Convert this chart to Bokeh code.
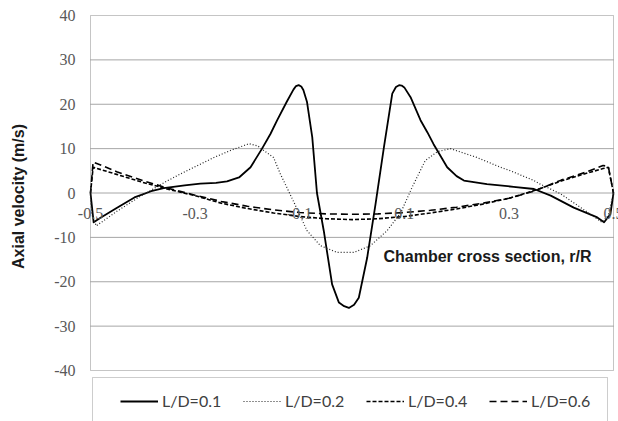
import math
from bokeh.plotting import figure
from bokeh.models import (Range1d, Legend, LegendItem, LabelSet, ColumnDataSource,
                          Label, BoxAnnotation)
from bokeh.embed import file_html
from bokeh.resources import INLINE

# ---- data ----
r_ld01 = [-0.5, -0.494, -0.48, -0.45, -0.416, -0.384, -0.36, -0.32, -0.29, -0.26, -0.239,
          -0.216, -0.194, -0.172, -0.156, -0.143, -0.125, -0.112, -0.107, -0.102, -0.097,
          -0.093, -0.086, -0.076, -0.067, -0.054, -0.038, -0.025, -0.015, -0.006, 0.004,
          0.013, 0.029, 0.045, 0.061, 0.077, 0.084, 0.090, 0.095, 0.100, 0.112, 0.131,
          0.144, 0.156, 0.182, 0.200, 0.214, 0.258, 0.309, 0.348, 0.38, 0.424, 0.469,
          0.482, 0.494, 0.5]
v_ld01 = [0.0, -6.6, -5.5, -3.4, -1.0, 0.4, 1.1, 1.7, 2.1, 2.3, 2.6,
          3.5, 5.8, 10.0, 13.3, 16.4, 20.5, 23.3, 24.1, 24.3, 24.0,
          23.2, 20.5, 12.6, 0.0, -8.5, -20.6, -24.7, -25.5, -25.9, -25.2,
          -23.6, -14.6, -2.5, 10.3, 22.4, 23.9, 24.3, 24.2, 23.8, 21.6, 16.4,
          13.7, 11.0, 5.8, 3.8, 2.8, 2.0, 1.4, 0.9, -0.6, -3.3, -5.5,
          -6.6, -4.8, 0.0]

r_ld02 = [-0.5, -0.497, -0.489, -0.448, -0.403, -0.352, -0.328, -0.276, -0.264, -0.23,
          -0.197, -0.18, -0.169, -0.15, -0.137, -0.111, -0.086, -0.06, -0.028, 0.003,
          0.035, 0.067, 0.093, 0.115, 0.14, 0.163, 0.188, 0.239, 0.284, 0.303, 0.348,
          0.36, 0.399, 0.44, 0.478, 0.49, 0.5]
v_ld02 = [-1.0, -5.0, -7.4, -4.0, -0.6, 2.8, 4.3, 7.3, 8.0, 9.7,
          11.1, 10.6, 9.6, 8.0, 4.3, -2.1, -8.5, -11.9, -13.4, -13.4,
          -11.9, -8.5, -4.5, 1.3, 7.3, 9.3, 10.0, 8.0, 5.8, 5.0, 2.8,
          2.0, -0.2, -3.5, -6.6, -5.0, 0.0]

r_ld04 = [-0.5, -0.495, -0.45, -0.4, -0.35, -0.3, -0.25, -0.2, -0.15, -0.1, -0.05, 0.0,
          0.05, 0.1, 0.15, 0.2, 0.25, 0.3, 0.35, 0.4, 0.45, 0.48, 0.49, 0.5]
v_ld04 = [0.0, 5.8, 4.2, 2.4, 0.8, -0.6, -2.3, -3.5, -4.5, -5.3, -5.8, -6.0,
          -5.8, -5.3, -4.5, -3.6, -2.5, -1.2, 0.6, 2.7, 4.5, 5.5, 5.8, 0.0]

r_ld06 = [-0.5, -0.495, -0.45, -0.4, -0.35, -0.3, -0.25, -0.2, -0.15, -0.1, -0.05, 0.0,
          0.05, 0.1, 0.15, 0.2, 0.25, 0.3, 0.35, 0.4, 0.45, 0.48, 0.49, 0.5]
v_ld06 = [0.0, 7.0, 4.8, 2.8, 1.0, -0.5, -1.9, -3.0, -3.8, -4.4, -4.7, -4.8,
          -4.7, -4.4, -3.9, -3.2, -2.3, -1.2, 0.5, 2.9, 4.8, 6.2, 6.0, 0.0]

series_labels = ["L/D=0.1", "L/D=0.2", "L/D=0.4", "L/D=0.6"]
x_ticks = [-0.5, -0.3, -0.1, 0.1, 0.3, 0.5]
x_tick_labels = ["-0.5", "-0.3", "-0.1", "0.1", "0.3", "0.5"]
y_ticks = [-40, -30, -20, -10, 0, 10, 20, 30, 40]
y_tick_labels = [str(t) for t in y_ticks]
y_title = "Axial velocity (m/s)"
x_title = "Chamber cross section, r/R"

# ---- layout (pixels of the canvas) ----
W, H = 618, 421
PL, PR, PT, PB = 90, 613, 15, 370          # plot-area edges
X0, X1 = -0.5, 0.5
Y0, Y1 = -40, 40
sx = (PR - PL) / (X1 - X0)
sy = (PB - PT) / (Y1 - Y0)
def xd(px):  # canvas px -> data x
    return X0 + (px - PL) / sx
def yd(py):  # canvas px -> data y
    return Y1 - (py - PT) / sy

TICK_FONT = "Lato"
TICK_COLOR = "#595959"

p = figure(width=W, height=H, output_backend="svg", toolbar_location=None,
           x_axis_location=None, y_axis_location=None,
           x_range=Range1d(xd(0), xd(W)), y_range=Range1d(yd(H), yd(0)),
           min_border=0)
p.outline_line_color = None
p.grid.visible = False
p.background_fill_color = "white"
p.border_fill_color = "white"

# horizontal gridlines
inner = [t for t in y_ticks if Y0 < t < Y1]
p.segment(x0=[X0] * len(inner), x1=[X1] * len(inner), y0=inner, y1=inner,
          line_color="#a6a6a6", line_width=1)

# plot-area border
p.add_layout(BoxAnnotation(left=X0, right=X1, bottom=Y0, top=Y1, fill_alpha=0,
                           line_color="#404040", line_width=1))

l1 = p.line(r_ld01, v_ld01, line_color="black", line_width=1.8, line_join="round")
l2 = p.line(r_ld02, v_ld02, line_color="#222222", line_width=1.2, line_dash="1 2")
l3 = p.line(r_ld04, v_ld04, line_color="black", line_width=1.6, line_dash="4 2")
l4 = p.line(r_ld06, v_ld06, line_color="black", line_width=1.6, line_dash="7 4")

# y tick labels
ysrc = ColumnDataSource(dict(x=[X0] * len(y_ticks), y=y_ticks, text=y_tick_labels))
p.add_layout(LabelSet(x="x", y="y", text="text", source=ysrc, x_offset=-15,
                      text_align="right", text_baseline="middle",
                      text_font=TICK_FONT, text_font_size="16px", text_color=TICK_COLOR))

# x tick labels along y = 0 (axis crosses at zero)
xsrc = ColumnDataSource(dict(x=x_ticks, y=[0] * len(x_ticks), text=x_tick_labels))
p.add_layout(LabelSet(x="x", y="y", text="text", source=xsrc, y_offset=-20,
                      text_align="center", text_baseline="middle",
                      text_font=TICK_FONT, text_font_size="16px", text_color=TICK_COLOR))

# axis titles
p.add_layout(Label(x=xd(18), y=yd(196), text=y_title, angle=math.pi / 2,
                   text_align="center", text_baseline="middle",
                   text_font="Liberation Sans", text_font_style="bold",
                   text_font_size="16px", text_color="#1a1a1a"))
p.add_layout(Label(x=xd(487), y=yd(256), text=x_title, text_align="center",
                   text_baseline="middle", text_font="Liberation Sans",
                   text_font_style="bold", text_font_size="16px", text_color="#1a1a1a"))

# legend box
p.add_layout(BoxAnnotation(left=xd(92), right=xd(607), top=yd(377), bottom=yd(440),
                           fill_alpha=0, line_color="#595959", line_width=1))

legend = Legend(items=[LegendItem(label=series_labels[0], renderers=[l1]),
                       LegendItem(label=series_labels[1], renderers=[l2]),
                       LegendItem(label=series_labels[2], renderers=[l3]),
                       LegendItem(label=series_labels[3], renderers=[l4])],
                orientation="horizontal", location=(120, H - 410),
                glyph_width=38, glyph_height=16, label_width=75, label_height=16,
                label_standoff=4, spacing=6, padding=0, margin=0,
                border_line_alpha=0, background_fill_alpha=0,
                label_text_font=TICK_FONT, label_text_font_size="16px",
                label_text_color="#404040")
p.add_layout(legend, "center")

open("out.html", "w").write(file_html(p, INLINE))
